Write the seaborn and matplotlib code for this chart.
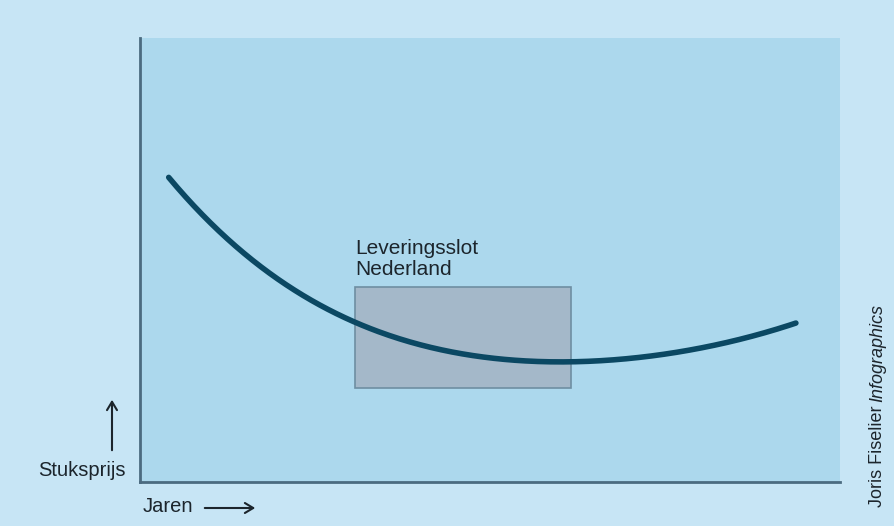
import matplotlib.pyplot as plt
import numpy as np
import pandas as pd
import seaborn as sns

# curve (arbitrary units, 0-100)
jaren = [4.1, 8.6, 15.7, 22.9, 30.7, 37.1, 44.3, 51.4, 61.6, 68.6, 80.0, 93.7]
stuksprijs = [68.5, 60.8, 50.5, 42.6, 35.6, 32.0, 29.7, 27.9, 27.0, 27.5, 30.2, 35.8]

# the "Leveringsslot Nederland" box
box_x = [30.7, 61.6]
box_y = [21.2, 43.9]

sns.set_style("white")
plt.rcParams['font.family'] = ['Liberation Sans', 'DejaVu Sans']

outer_bg = '#c7e5f5'
inner_bg = '#acd8ed'
curve_col = '#0b4863'
axis_col = '#4b6b80'
text_col = '#1c252c'

fig = plt.figure(figsize=(8.94, 5.26), dpi=100, facecolor=outer_bg)
ax = fig.add_axes([140 / 894, 1 - 482 / 526, 700 / 894, 444 / 526])
ax.set_facecolor(inner_bg)

# box first so the curve is drawn over it
ax.add_patch(plt.Rectangle((box_x[0], box_y[0]), box_x[1] - box_x[0], box_y[1] - box_y[0],
                           facecolor='#a4b8c9', edgecolor='#6e8ea2', linewidth=1.2, zorder=2))

df = pd.DataFrame({'jaren': jaren, 'stuksprijs': stuksprijs})
# smooth the read-off points for drawing
xs = np.linspace(min(jaren), max(jaren), 300)
coef = np.polyfit(df['jaren'], df['stuksprijs'], 4)
smooth = pd.DataFrame({'jaren': xs, 'stuksprijs': np.polyval(coef, xs)})
sns.lineplot(data=smooth, x='jaren', y='stuksprijs', ax=ax, color=curve_col,
             linewidth=4, solid_capstyle='round', zorder=3)

ax.text(box_x[0], box_y[1] + 1.8, 'Leveringsslot\nNederland', fontsize=15,
        color=text_col, ha='left', va='bottom', linespacing=1.12)

ax.set_xlim(0, 100)
ax.set_ylim(0, 100)
ax.set_xticks([])
ax.set_yticks([])
ax.set_xlabel('')
ax.set_ylabel('')
for s in ['top', 'right']:
    ax.spines[s].set_visible(False)
for s in ['left', 'bottom']:
    ax.spines[s].set_color(axis_col)
    ax.spines[s].set_linewidth(2)

# axis captions with arrows
fig.text(126 / 894, 1 - 470 / 526, 'Stuksprijs', fontsize=14.5, color=text_col,
         ha='right', va='center')
fig.text(143 / 894, 1 - 507 / 526, 'Jaren', fontsize=14.5, color=text_col,
         ha='left', va='center')
arrow = dict(arrowstyle='->, head_length=0.5, head_width=0.3', color=text_col, lw=1.5,
             mutation_scale=12)
fig.add_artist(plt.Annotation('', xy=(112 / 894, 1 - 397 / 526), xytext=(112 / 894, 1 - 453 / 526),
                              xycoords='figure fraction', textcoords='figure fraction',
                              arrowprops=arrow))
fig.add_artist(plt.Annotation('', xy=(258 / 894, 1 - 508 / 526), xytext=(202 / 894, 1 - 508 / 526),
                              xycoords='figure fraction', textcoords='figure fraction',
                              arrowprops=arrow))

# credit: upright name, italic "Infographics" right after it
t1 = fig.text(878 / 894, 1 - 507 / 526, 'Joris Fiselier', fontsize=13, color=text_col,
              rotation=90, ha='center', va='bottom')
fig.canvas.draw()
top_px = t1.get_window_extent().y1
fig.text(878 / 894, (top_px + 4) / 526, 'Infographics', fontsize=13, color=text_col,
         style='italic', rotation=90, ha='center', va='bottom')

plt.savefig('out.png', dpi=100, facecolor=outer_bg)
plt.close()
